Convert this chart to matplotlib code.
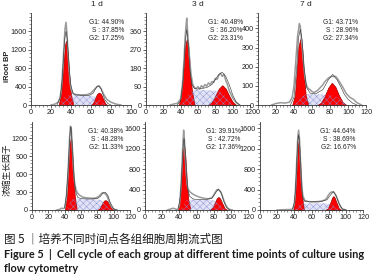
import numpy as np
import matplotlib
matplotlib.use("Agg")
import matplotlib.pyplot as plt
from matplotlib.ticker import AutoMinorLocator

plt.rcParams['font.family'] = ['Liberation Sans', 'Noto Sans CJK SC', 'DejaVu Sans']
plt.rcParams['hatch.linewidth'] = 0.3

# ---------------- data ----------------
col_titles = ["1 d", "3 d", "7 d"]
row_labels = ["iRoot BP", "浓缩生长因子"]

pcts = [
    ["44.90", "37.85", "17.25"],
    ["40.48", "36.20", "23.31"],
    ["43.71", "28.96", "27.34"],
    ["40.38", "48.28", "11.33"],
    ["39.91", "42.72", "17.36"],
    ["44.64", "38.69", "16.67"],
]

yticks = [
    [0, 400, 800, 1200, 1600],
    [0, 90, 180, 270, 360],
    [0, 100, 200, 300, 400],
    [0, 300, 600, 900, 1200],
    [0, 400, 800, 1200, 1600],
    [0, 400, 800, 1200, 1600],
]
xticks = [
    [0, 20, 40, 60, 80, 100],
    [0, 20, 40, 60, 80, 100, 120],
    [0, 20, 40, 60, 80, 100, 120],
    [0, 20, 40, 60, 80, 100, 120],
    [0, 20, 40, 60, 80, 100, 120],
    [0, 20, 40, 60, 80, 100, 120],
]
ymax = [2000, 450, 480, 1470, 1720, 1720]
xmax = [100, 120, 120, 120, 120, 120]

# panel 1 (iRoot BP, 1 d)
raw1_x = [20, 24, 27, 29, 30, 31, 32, 33, 34, 35, 36, 37, 38, 39, 40, 42, 44, 50, 56, 60, 63, 66, 68, 70, 73, 76, 80, 85, 90]
raw1_y = [0, 20, 60, 150, 300, 550, 900, 1300, 1650, 1800, 1550, 1150, 800, 500, 350, 250, 230, 220, 225, 260, 330, 400, 420, 360, 220, 120, 60, 20, 0]
fit1_x = [26, 29, 30, 31, 32, 33, 34, 35, 36, 37, 38, 39, 40, 42, 44, 50, 58, 62, 64, 66, 68, 70, 72, 74, 77, 80]
fit1_y = [0, 150, 300, 500, 850, 1200, 1480, 1600, 1480, 1200, 880, 600, 420, 260, 220, 210, 210, 250, 330, 400, 410, 350, 230, 110, 30, 0]
g1_1_x = [28, 30, 31, 32, 33, 34, 35, 36, 37, 38, 39, 40, 42]
g1_1_y = [40, 220, 430, 720, 1040, 1300, 1400, 1300, 1040, 720, 430, 220, 40]
s1_x = [28, 31, 34, 40, 50, 60, 64, 68, 72, 75]
s1_y = [0, 120, 200, 215, 210, 205, 190, 120, 40, 0]
g2_1_x = [60, 62, 64, 66, 68, 70, 72, 74, 76]
g2_1_y = [0, 40, 140, 240, 270, 240, 140, 40, 0]

# panel 2 (iRoot BP, 3 d)
raw2_x = [28, 32, 36, 40, 42, 44, 45, 46, 47, 48, 49, 50, 52, 54, 56, 58, 60, 62, 64, 66, 68, 70, 72, 74, 76, 78, 80, 82, 84, 86, 88, 90, 92, 94, 96, 100, 104, 108]
raw2_y = [0, 5, 8, 30, 100, 230, 320, 380, 425, 360, 300, 240, 150, 100, 85, 80, 90, 78, 95, 85, 100, 92, 108, 100, 115, 110, 130, 125, 145, 155, 140, 150, 120, 100, 70, 35, 12, 0]
fit2_x = [36, 40, 43, 45, 47, 49, 51, 53, 56, 60, 70, 76, 80, 84, 88, 92, 96, 100, 104, 108]
fit2_y = [0, 20, 130, 290, 370, 290, 160, 100, 80, 78, 85, 100, 125, 150, 160, 140, 100, 50, 15, 0]
g1_2_x = [38, 41, 43, 45, 47, 49, 51, 53, 56]
g1_2_y = [0, 70, 160, 285, 322, 285, 160, 70, 0]
s2_x = [40, 44, 48, 52, 56, 60, 70, 80, 86, 90, 94, 98, 102]
s2_y = [0, 20, 50, 68, 75, 75, 72, 70, 65, 50, 30, 10, 0]
g2_2_x = [72, 76, 80, 84, 88, 92, 96, 100, 104]
g2_2_y = [0, 15, 45, 80, 97, 80, 45, 15, 0]

# panel 3 (iRoot BP, 7 d)
raw3_x = [15, 20, 25, 30, 35, 38, 40, 42, 44, 46, 47, 48, 50, 52, 54, 56, 58, 60, 62, 64, 66, 68, 70, 72, 74, 76, 78, 80, 82, 84, 86, 88, 90, 94, 98, 102, 106, 110, 115]
raw3_y = [0, 8, 12, 10, 15, 40, 100, 230, 360, 425, 410, 360, 250, 150, 100, 85, 80, 70, 65, 70, 75, 85, 95, 105, 120, 130, 140, 145, 150, 148, 150, 140, 125, 95, 60, 40, 30, 12, 0]
fit3_x = [36, 40, 43, 45, 47, 49, 51, 54, 58, 64, 72, 78, 83, 88, 92, 96, 100, 105, 110]
fit3_y = [0, 40, 190, 350, 395, 340, 200, 90, 62, 58, 80, 130, 160, 130, 95, 55, 30, 10, 0]
g1_3_x = [38, 41, 43, 45, 47, 49, 51, 53, 56]
g1_3_y = [0, 50, 170, 305, 345, 305, 170, 50, 0]
s3_x = [40, 44, 48, 52, 56, 62, 70, 78, 84, 88, 92, 96, 100]
s3_y = [0, 15, 40, 55, 58, 57, 55, 52, 50, 40, 25, 8, 0]
g2_3_x = [66, 70, 74, 78, 82, 86, 90, 94, 98]
g2_3_y = [0, 12, 45, 90, 116, 95, 50, 15, 0]

# panel 4 (浓缩生长因子, 1 d)
raw4_x = [30, 34, 36, 38, 40, 42, 43, 44, 45, 46, 47, 48, 49, 50, 51, 52, 54, 56, 58, 62, 66, 70, 74, 78, 82, 84, 86, 88, 90, 92, 94, 96, 98, 100, 104]
raw4_y = [0, 10, 30, 25, 30, 200, 380, 620, 900, 1200, 1400, 1380, 1150, 880, 650, 480, 330, 280, 250, 215, 205, 200, 195, 200, 230, 260, 285, 280, 270, 230, 160, 90, 40, 15, 0]
fit4_x = [40, 42, 44, 45, 46, 47, 47.5, 48, 49, 50, 51, 52, 54, 56, 60, 70, 80, 84, 87, 90, 93, 96, 100, 104]
fit4_y = [40, 250, 620, 900, 1150, 1350, 1390, 1350, 1150, 900, 650, 450, 280, 210, 190, 183, 190, 230, 290, 295, 240, 120, 20, 0]
g1_4_x = [40.5, 42.5, 43.5, 44.5, 45.5, 46.5, 47.5, 48.5, 49.5, 50.5, 51.5, 52.5, 54.5]
g1_4_y = [40, 210, 400, 650, 920, 1130, 1210, 1130, 920, 650, 400, 210, 40]
s4_x = [42, 45, 48, 52, 60, 70, 80, 85, 88, 92, 96, 100]
s4_y = [0, 80, 170, 185, 185, 183, 180, 160, 120, 60, 15, 0]
g2_4_x = [80, 83, 86, 88, 90, 92, 95, 98, 101]
g2_4_y = [0, 30, 110, 155, 165, 150, 90, 25, 0]

# panel 5 (浓缩生长因子, 3 d)
raw5_x = [26, 30, 33, 36, 38, 40, 41, 42, 43, 44, 45, 46, 47, 48, 49, 50, 52, 55, 58, 62, 66, 70, 74, 78, 80, 82, 84, 86, 88, 90, 92, 94, 96, 98, 102]
raw5_y = [0, 20, 35, 15, 10, 80, 250, 500, 850, 1250, 1560, 1350, 1000, 720, 520, 420, 360, 320, 290, 260, 240, 225, 220, 240, 290, 350, 400, 390, 360, 280, 180, 100, 45, 15, 0]
fit5_x = [39, 41, 42, 43, 44, 45, 45.5, 46, 47, 48, 49, 50, 52, 56, 62, 70, 78, 82, 85.5, 89, 92, 95, 99]
fit5_y = [40, 260, 480, 800, 1120, 1350, 1400, 1350, 1100, 800, 560, 400, 270, 215, 205, 200, 230, 330, 410, 330, 160, 50, 0]
g1_5_x = [38.5, 40.5, 41.5, 42.5, 43.5, 44.5, 45.5, 46.5, 47.5, 48.5, 49.5, 50.5, 52.5]
g1_5_y = [40, 200, 380, 630, 920, 1170, 1270, 1170, 920, 630, 380, 200, 40]
s5_x = [40, 44, 48, 52, 60, 70, 78, 82, 86, 90, 94, 98]
s5_y = [0, 90, 185, 200, 200, 198, 195, 170, 120, 55, 12, 0]
g2_5_x = [75, 78, 81, 83.5, 85.5, 87.5, 90, 93, 96]
g2_5_y = [0, 30, 130, 225, 255, 225, 130, 30, 0]

# panel 6 (浓缩生长因子, 7 d)
raw6_x = [20, 25, 30, 35, 38, 40, 41, 42, 43, 44, 45, 46, 47, 48, 49, 50, 52, 56, 60, 64, 68, 72, 76, 78, 80, 82, 84, 86, 88, 90, 92, 94, 96, 100]
raw6_y = [0, 5, 8, 10, 15, 120, 330, 650, 1050, 1420, 1560, 1400, 1000, 650, 420, 280, 190, 165, 160, 160, 165, 175, 200, 240, 300, 340, 355, 350, 300, 220, 130, 60, 20, 0]
fit6_x = [38, 40, 41, 42, 43, 44, 45, 46, 47, 48, 49, 50, 52, 58, 70, 78, 82, 85.5, 89, 92, 96, 100]
fit6_y = [20, 150, 330, 620, 1000, 1330, 1470, 1330, 1000, 640, 360, 230, 170, 160, 160, 200, 290, 360, 270, 130, 20, 0]
g1_6_x = [39, 41, 42, 43, 44, 45, 46, 47, 48, 49, 51]
g1_6_y = [30, 260, 530, 900, 1230, 1370, 1230, 900, 530, 260, 30]
s6_x = [39, 42, 45, 48, 52, 60, 70, 78, 82, 86, 90, 94, 97]
s6_y = [0, 40, 100, 125, 130, 130, 130, 128, 115, 80, 35, 8, 0]
g2_6_x = [76, 79, 82, 84, 85.5, 87, 89, 92, 95]
g2_6_y = [0, 30, 150, 240, 273, 240, 150, 30, 0]

panels = [
    (raw1_x, raw1_y, fit1_x, fit1_y, g1_1_x, g1_1_y, s1_x, s1_y, g2_1_x, g2_1_y),
    (raw2_x, raw2_y, fit2_x, fit2_y, g1_2_x, g1_2_y, s2_x, s2_y, g2_2_x, g2_2_y),
    (raw3_x, raw3_y, fit3_x, fit3_y, g1_3_x, g1_3_y, s3_x, s3_y, g2_3_x, g2_3_y),
    (raw4_x, raw4_y, fit4_x, fit4_y, g1_4_x, g1_4_y, s4_x, s4_y, g2_4_x, g2_4_y),
    (raw5_x, raw5_y, fit5_x, fit5_y, g1_5_x, g1_5_y, s5_x, s5_y, g2_5_x, g2_5_y),
    (raw6_x, raw6_y, fit6_x, fit6_y, g1_6_x, g1_6_y, s6_x, s6_y, g2_6_x, g2_6_y),
]

# ---------------- layout (pixels) ----------------
W, H = 376, 280
fig = plt.figure(figsize=(W / 100, H / 100), dpi=100)
fig.patch.set_facecolor('white')

rects_px = [
    (31, 13, 131, 105),
    (146, 13, 250, 105),
    (258, 13, 366, 105),
    (32, 122, 130, 210),
    (145, 122, 248, 210),
    (260, 122, 363, 210),
]

def px_rect(x0, y0, x1, y1):
    return [x0 / W, (H - y1) / H, (x1 - x0) / W, (y1 - y0) / H]

RED = '#ff0000'
S_FACE = '#e2e2f6'
S_HATCH = '#8590d2'

for i, (rx, ry, fx, fy, g1x, g1y, sx, sy, g2x, g2y) in enumerate(panels):
    ax = fig.add_axes(px_rect(*rects_px[i]))
    ax.fill_between(sx, 0, sy, facecolor=S_FACE, edgecolor='none', zorder=1)
    ax.fill_between(g1x, 0, g1y, facecolor=RED, edgecolor='#a00000', linewidth=0.5, zorder=2)
    ax.fill_between(g2x, 0, g2y, facecolor=RED, edgecolor='#a00000', linewidth=0.5, zorder=2)
    ax.fill_between(sx, 0, sy, facecolor='none', edgecolor=S_HATCH, hatch='xxxxx',
                    linewidth=0, zorder=3)
    ax.plot(rx, ry, color='#9a9a9a', linewidth=1.1, zorder=4)
    ax.plot(fx, fy, color='#303030', linewidth=0.4, zorder=5)

    ax.set_xlim(0, xmax[i])
    ax.set_ylim(0, ymax[i])
    ax.set_xticks(xticks[i])
    ax.set_yticks(yticks[i])
    ax.xaxis.set_minor_locator(AutoMinorLocator(5))
    ax.yaxis.set_minor_locator(AutoMinorLocator(5))
    ax.tick_params(axis='both', which='major', length=2, width=0.5, pad=1.2,
                   labelsize=5.2, colors='#222222')
    ax.tick_params(axis='both', which='minor', length=1.2, width=0.4, colors='#444444')
    for s in ('top', 'right'):
        ax.spines[s].set_visible(False)
    for s in ('left', 'bottom'):
        ax.spines[s].set_linewidth(0.6)
        ax.spines[s].set_color('#333333')
    ax.patch.set_alpha(0)

    g1, sp, g2 = pcts[i]
    ax.text(0.93, 0.93, f"G1: {g1}%\nS : {sp}%\nG2: {g2}%", transform=ax.transAxes,
            ha='right', va='top', multialignment='right', fontsize=4.8,
            color='#222222', linespacing=1.15, zorder=6)

# column titles
title_pos = [(97, 5), (198, 5), (306, 5)]
for t, (x, y) in zip(col_titles, title_pos):
    fig.text(x / W, 1 - y / H, t, ha='center', va='center', fontsize=6, color='#222222')

# row labels
fig.text(7.5 / W, 1 - 66 / H, row_labels[0], rotation=90, ha='center', va='center',
         fontsize=5.3, fontweight='bold', color='#222222')
fig.text(7.5 / W, 1 - 170 / H, row_labels[1], rotation=90, ha='center', va='center',
         fontsize=6.3, color='#222222', family=['Noto Sans CJK SC', 'DejaVu Sans'])

# caption
fig.text(4 / W, 1 - 239 / H, "图 5 ｜培养不同时间点各组细胞周期流式图", ha='left', va='center',
         fontsize=8.3, color='#1a1a1a', family=['Noto Sans CJK SC', 'DejaVu Sans'])
fig.text(4 / W, 1 - 254 / H,
         "Figure 5  |  Cell cycle of each group at different time points of culture using",
         ha='left', va='center', fontsize=7.8, fontweight='bold', color='#1a1a1a',
         family=['Lato', 'DejaVu Sans'])
fig.text(4 / W, 1 - 269 / H, "flow cytometry", ha='left', va='center', fontsize=7.8,
         fontweight='bold', color='#1a1a1a', family=['Lato', 'DejaVu Sans'])

fig.savefig('out.png', dpi=100, facecolor='white')
